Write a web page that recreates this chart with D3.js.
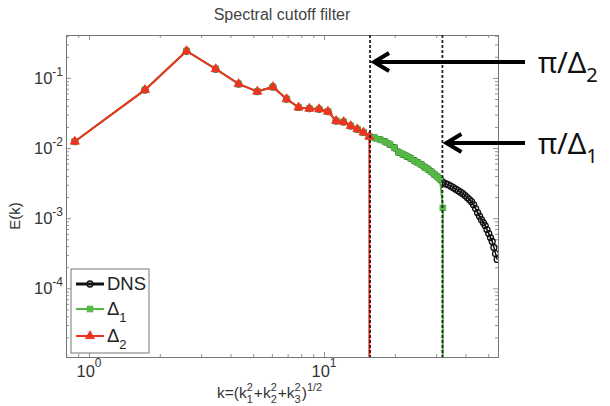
<!DOCTYPE html>
<html><head><meta charset="utf-8">
<script src="https://cdn.jsdelivr.net/npm/d3@7"></script>
<style>
body{margin:0;background:#fff}
svg{display:block;font-family:"Liberation Sans",Arial,Helvetica,sans-serif}
</style>
</head><body>
<svg id="c" width="610" height="406"></svg>
<script>
// ---------------- data ----------------
const k = [0.87,1.73,2.60,3.46,4.33,5.20,6.06,6.93,7.79,8.66,9.53,10.39,11.26,12.12,12.99,13.86,14.72,15.59,
  16.45,17.32,18.19,19.05,19.92,20.78,21.65,22.52,23.38,24.25,25.11,25.98,26.85,27.71,28.58,29.44,30.31,31.18,
  32.04,32.91,33.77,34.64,35.51,36.37,37.24,38.10,38.97,39.84,40.70,41.57,42.43,43.30,44.17,45.03,45.90,46.76,
  47.63,48.50,49.36,50.23,51.09,51.96,52.83,53.69,54.56];
const dns = [0.0124,0.0675,0.242,0.134,0.082,0.064,0.0744,0.050,0.038,0.0366,0.0359,0.0332,0.0244,0.0236,0.0207,0.0186,0.0167,0.0146,
  0.01401,0.01321,0.01230,0.01133,0.01010,0.00871,0.00816,0.00764,0.00716,0.00659,0.00618,0.00578,0.00533,0.00499,0.00460,0.00424,0.00391,0.00360,
  0.00326,0.00310,0.00301,0.00286,0.00272,0.00259,0.00247,0.00235,0.00224,0.00210,0.00197,0.00184,0.00172,0.00156,0.00137,0.00120,0.00107,0.000955,
  0.000865,0.000785,0.000689,0.000604,0.000530,0.000465,0.000382,0.000313,0.000258];
const delta1 = [0.0124,0.0675,0.242,0.134,0.082,0.064,0.0744,0.050,0.038,0.0366,0.0359,0.0332,0.0244,0.0236,0.0207,0.0186,0.0167,0.0146,
  0.01401,0.01321,0.01230,0.01133,0.01010,0.00871,0.00816,0.00764,0.00716,0.00659,0.00618,0.00578,0.00533,0.00499,0.00460,0.00424,0.00391,0.00360,
  0.00140];
const delta2 = [0.0124,0.0675,0.242,0.134,0.082,0.064,0.0744,0.050,0.038,0.0366,0.0359,0.0332,0.0244,0.0236,0.0207,0.0186,0.0167,0.0146];
const cutoffK = [15.7, 31.9];          // π/Δ2 , π/Δ1
const cutoffLabelSub = ["2", "1"];
const yTickVals = [1e-4, 1e-3, 1e-2, 1e-1];
const yTickExp = ["-4", "-3", "-2", "-1"];
const xTickVals = [1, 10];
const xTickExp = ["0", "1"];
const legendNames = ["DNS", "Δ1", "Δ2"];
const title = "Spectral cutoff filter";

// ---------------- layout ----------------
const L = 66, T = 35, R = 498, B = 357;
const x = d3.scaleLog().domain([0.798, 55.0]).range([L, R]);
const y = d3.scaleLog().domain([1.05e-5, 0.409]).range([B, T]);
const svg = d3.select("#c");
const axisCol = "#777", txtCol = "#333";
const red = "#ee3322", green = "#55b845";

svg.append("defs").append("clipPath").attr("id", "clip")
  .append("rect").attr("x", L).attr("y", T).attr("width", R - L).attr("height", B - T);

// ---------------- ticks ----------------
function minorVals(dom) {
  const out = [];
  const lo = Math.floor(Math.log10(dom[0])), hi = Math.ceil(Math.log10(dom[1]));
  for (let e = lo; e <= hi; e++) for (let m = 1; m <= 9; m++) {
    const v = m * Math.pow(10, e);
    if (v >= dom[0] && v <= dom[1]) out.push(v);
  }
  return out;
}
const xMinor = minorVals(x.domain()), yMinor = minorVals(y.domain());
const isMajor = v => Math.abs(Math.log10(v) - Math.round(Math.log10(v))) < 1e-9;

function drawAxis(gen, tr, vals, size) {
  const g = svg.append("g").attr("transform", tr)
    .call(gen.tickValues(vals).tickSizeInner(size).tickSizeOuter(0).tickFormat(""));
  g.selectAll("path").attr("stroke", axisCol).attr("stroke-width", 1);
  g.selectAll("line").attr("stroke", axisCol).attr("stroke-width", 0.8);
  return g;
}
const xMaj = xMinor.filter(isMajor), xMin = xMinor.filter(v => !isMajor(v));
const yMaj = yMinor.filter(isMajor), yMin = yMinor.filter(v => !isMajor(v));
[[xMaj, -5], [xMin, -3]].forEach(([v, s]) => {
  drawAxis(d3.axisBottom(x), `translate(0,${B})`, v, s);
  drawAxis(d3.axisTop(x), `translate(0,${T})`, v, s);
});
[[yMaj, -5], [yMin, -3]].forEach(([v, s]) => {
  drawAxis(d3.axisLeft(y), `translate(${L},0)`, v, s);
  drawAxis(d3.axisRight(y), `translate(${R},0)`, v, s);
});

// tick labels
yTickVals.forEach((v, i) => {
  const t = svg.append("text").attr("x", L - 3).attr("y", y(v) + 6)
    .attr("text-anchor", "end").attr("fill", txtCol).attr("font-size", 16.5);
  t.append("tspan").text("10");
  t.append("tspan").attr("dy", -8).attr("font-size", 12).text(yTickExp[i]);
});
xTickVals.forEach((v, i) => {
  const t = svg.append("text").attr("x", x(v)).attr("y", B + 20)
    .attr("text-anchor", "middle").attr("fill", txtCol).attr("font-size", 16.5);
  t.append("tspan").text("10");
  t.append("tspan").attr("dy", -10).attr("font-size", 12).text(xTickExp[i]);
});

// title
svg.append("text").attr("x", (L + R) / 2).attr("y", 20).attr("text-anchor", "middle")
  .attr("fill", "#444").attr("font-size", 16).text(title);

// y label
svg.append("text").attr("transform", `translate(20,${(T + B) / 2 + 20}) rotate(-90)`)
  .attr("text-anchor", "middle").attr("fill", txtCol).attr("font-size", 15).text("E(k)");

// x label: k=(k1^2+k2^2+k3^2)^(1/2)
(function () {
  const base = 15.5, scr = 11, by = 398;
  let cx = 217;
  const g = svg.append("g").attr("fill", txtCol);
  const put = (s, fs, dy) => {
    const t = g.append("text").attr("x", cx).attr("y", by + dy).attr("font-size", fs).text(s);
    return t.node().getComputedTextLength();
  };
  const parts = [["k=(k", "2", "1"], ["+k", "2", "2"], ["+k", "2", "3"], [")", "1/2", null]];
  parts.forEach(p => {
    cx += put(p[0], base, 0);
    let w = 0;
    if (p[1]) w = Math.max(w, put(p[1], scr, -7));
    if (p[2]) w = Math.max(w, put(p[2], scr, 5));
    cx += w + 1;
  });
})();

// ---------------- series ----------------
const plot = svg.append("g").attr("clip-path", "url(#clip)");
const line = d3.line().x((d, i) => x(k[i])).y(d => y(d));

function series(vals, col, w, marker, drop) {
  const g = plot.append("g");
  g.append("path").attr("d", line(vals)).attr("fill", "none").attr("stroke", col).attr("stroke-width", w);
  if (drop) {
    const n = vals.length - 1;
    g.append("line").attr("x1", x(k[n])).attr("x2", x(k[n]))
      .attr("y1", y(vals[n])).attr("y2", y.range()[0]).attr("stroke", col).attr("stroke-width", w);
  }
  vals.forEach((v, i) => marker(g, x(k[i]), y(v)));
}
const circ = (g, cx, cy) => g.append("circle").attr("cx", cx).attr("cy", cy).attr("r", 3)
  .attr("fill", "none").attr("stroke", "#111").attr("stroke-width", 1.3);
const sq = (g, cx, cy) => g.append("rect").attr("x", cx - 2.8).attr("y", cy - 2.8).attr("width", 5.6).attr("height", 5.6)
  .attr("fill", green).attr("stroke", green).attr("stroke-width", 1);
const tri = (g, cx, cy) => g.append("path").attr("d", d3.symbol(d3.symbolTriangle, 36)())
  .attr("transform", `translate(${cx},${cy})`).attr("fill", red).attr("stroke", red).attr("stroke-width", 0.8);

series(dns, "#111", 1.5, circ, false);
series(delta1, green, 2, sq, true);
series(delta2, red, 2, tri, true);

// cutoff dashed lines
cutoffK.forEach(c => {
  svg.append("line").attr("x1", x(c)).attr("x2", x(c)).attr("y1", T).attr("y2", B)
    .attr("stroke", "#222").attr("stroke-width", 1.8).attr("stroke-dasharray", "3,2");
});

// ---------------- legend ----------------
const lg = svg.append("g");
lg.append("rect").attr("x", 71).attr("y", 269).attr("width", 78).attr("height", 84)
  .attr("fill", "#fff").attr("stroke", axisCol).attr("stroke-width", 1);
const legCols = ["#111", green, red], legW = [3, 2, 2], legMk = [circ, sq, tri];
const legY = [284, 309, 336];
legendNames.forEach((name, i) => {
  lg.append("line").attr("x1", 76).attr("x2", 104).attr("y1", legY[i]).attr("y2", legY[i])
    .attr("stroke", legCols[i]).attr("stroke-width", legW[i]);
  legMk[i](lg, 90, legY[i]);
  const t = lg.append("text").attr("x", 107).attr("y", legY[i] + 6).attr("font-size", 18.5).attr("fill", "#222");
  t.append("tspan").text(name[0] === "Δ" ? "Δ" : name);
  if (name[0] === "Δ") t.append("tspan").attr("dy", 7).attr("font-size", 13).text(name.slice(1));
});

// ---------------- annotations ----------------
const arrowY = [62, 143];
cutoffK.forEach((c, i) => {
  const tip = x(c) + 3, yy = arrowY[i];
  const a = svg.append("g").attr("fill", "none").attr("stroke", "#000").attr("stroke-width", 4);
  a.append("line").attr("x1", 525).attr("x2", tip + 1).attr("y1", yy).attr("y2", yy);
  a.append("path").attr("d", `M${tip + 16},${yy - 9}L${tip + 1},${yy}L${tip + 16},${yy + 9}`)
    .attr("stroke-linejoin", "miter");
  const t = svg.append("text").attr("x", 538).attr("y", yy + 11).attr("font-family", "'Noto Sans',sans-serif")
    .attr("font-size", 29).attr("fill", "#111");
  t.append("tspan").text("π/Δ");
  t.append("tspan").attr("dy", 9).attr("font-size", 20).text(cutoffLabelSub[i]);
});
</script>
</body></html>
